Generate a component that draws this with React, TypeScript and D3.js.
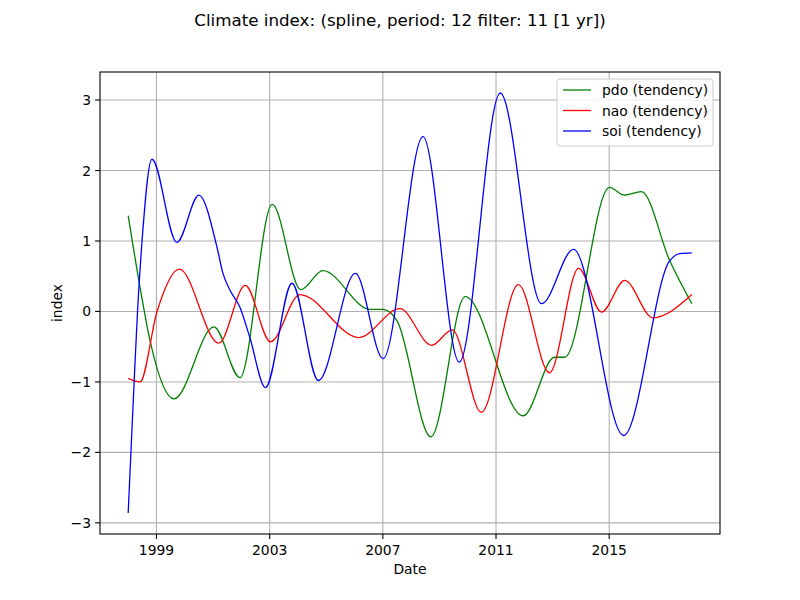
import React from "react";
import * as d3 from "d3";

// decimal years + index values
const pdoYears = [1998.0, 1998.42, 1998.77, 1999.62, 2001.03, 2001.95, 2003.09, 2004.1, 2004.88, 2006.54, 2007.0, 2007.5, 2008.7, 2009.91, 2011.96, 2013.07, 2013.43, 2015.01, 2015.53, 2016.14, 2017.14, 2017.92];
const pdoValues = [1.36, 0.34, -0.41, -1.24, -0.22, -0.94, 1.52, 0.31, 0.58, 0.03, 0.03, -0.13, -1.78, 0.21, -1.48, -0.65, -0.65, 1.76, 1.65, 1.7, 0.72, 0.11];

const naoYears = [1998.0, 1998.42, 1999.02, 1999.81, 2001.2, 2002.14, 2003.03, 2004.07, 2006.15, 2007.6, 2008.73, 2009.45, 2010.48, 2011.79, 2012.89, 2013.92, 2014.73, 2015.55, 2016.54, 2017.92];
const naoValues = [-0.95, -1.0, 0.0, 0.6, -0.45, 0.37, -0.43, 0.24, -0.37, 0.04, -0.48, -0.26, -1.43, 0.38, -0.87, 0.61, -0.01, 0.44, -0.09, 0.24];

const soiYears = [1998.0, 1998.21, 1998.33, 1998.49, 1998.84, 1999.72, 2000.5, 2001.14, 2001.35, 2001.6, 2001.95, 2002.3, 2002.85, 2003.79, 2004.72, 2006.03, 2007.01, 2008.42, 2009.7, 2011.15, 2012.61, 2013.74, 2015.51, 2017.14, 2017.49, 2017.92];
const soiValues = [-2.86, -1.0, 0.0, 1.0, 2.16, 0.98, 1.65, 0.91, 0.54, 0.3, 0.06, -0.37, -1.08, 0.4, -0.98, 0.54, -0.67, 2.48, -0.72, 3.1, 0.11, 0.88, -1.76, 0.72, 0.82, 0.83];

const xTicks = [1999, 2003, 2007, 2011, 2015];
const yTicks = [-3, -2, -1, 0, 1, 2, 3];

const series = [
  { label: "pdo (tendency)", color: "green", years: pdoYears, values: pdoValues },
  { label: "nao (tendency)", color: "red", years: naoYears, values: naoValues },
  { label: "soi (tendency)", color: "blue", years: soiYears, values: soiValues },
];

const W = 800;
const H = 600;
const margin = { left: 100, right: 80, top: 72, bottom: 66 };
const font = "DejaVu Sans, sans-serif";

function padded(lo: number, hi: number): [number, number] {
  const m = (hi - lo) * 0.05;
  return [lo - m, hi + m];
}

export default function App() {
  const allYears = series.flatMap((s) => s.years);
  const allValues = series.flatMap((s) => s.values);

  const x = d3
    .scaleLinear()
    .domain(padded(d3.min(allYears) as number, d3.max(allYears) as number))
    .range([margin.left, W - margin.right]);
  const y = d3
    .scaleLinear()
    .domain(padded(d3.min(allValues) as number, d3.max(allValues) as number))
    .range([H - margin.bottom, margin.top]);

  const line = d3
    .line<[number, number]>()
    .x((d) => x(d[0]))
    .y((d) => y(d[1]))
    .curve(d3.curveMonotoneX);

  const x0 = margin.left;
  const x1 = W - margin.right;
  const y0 = margin.top;
  const y1 = H - margin.bottom;

  // legend box, upper right
  const lgRight = x1 - 7;
  const lgTop = y0 + 7;
  const lgW = 156;
  const lgRow = 20.5;

  return (
    <svg
      width={W}
      height={H}
      style={{ position: "absolute", left: 0, top: 0, background: "white" }}
      fontFamily={font}
    >
      <rect width={W} height={H} fill="white" />
      <text x={W / 2} y={26} textAnchor="middle" fontSize={16.7} fill="black">
        Climate index: (spline, period: 12 filter: 11 [1 yr])
      </text>

      {/* grid */}
      {xTicks.map((t) => (
        <line key={"gx" + t} x1={x(t)} x2={x(t)} y1={y0} y2={y1} stroke="#b0b0b0" strokeWidth={1.1} />
      ))}
      {yTicks.map((t) => (
        <line key={"gy" + t} x1={x0} x2={x1} y1={y(t)} y2={y(t)} stroke="#b0b0b0" strokeWidth={1.1} />
      ))}

      <clipPath id="plot">
        <rect x={x0} y={y0} width={x1 - x0} height={y1 - y0} />
      </clipPath>
      <g clipPath="url(#plot)">
        {series.map((s) => (
          <path
            key={s.label}
            d={line(s.years.map((yr, i) => [yr, s.values[i]] as [number, number])) || ""}
            fill="none"
            stroke={s.color}
            strokeWidth={1.3}
          />
        ))}
      </g>

      {/* spines */}
      <rect x={x0} y={y0} width={x1 - x0} height={y1 - y0} fill="none" stroke="black" strokeWidth={1.1} />

      {/* x ticks */}
      {xTicks.map((t) => (
        <g key={"tx" + t}>
          <line x1={x(t)} x2={x(t)} y1={y1} y2={y1 + 4.9} stroke="black" strokeWidth={1.1} />
          <text x={x(t)} y={y1 + 21} textAnchor="middle" fontSize={13.9} fill="black">
            {t}
          </text>
        </g>
      ))}
      {/* y ticks */}
      {yTicks.map((t) => (
        <g key={"ty" + t}>
          <line x1={x0 - 4.9} x2={x0} y1={y(t)} y2={y(t)} stroke="black" strokeWidth={1.1} />
          <text x={x0 - 9} y={y(t) + 5} textAnchor="end" fontSize={13.9} fill="black">
            {t < 0 ? "\u2212" + Math.abs(t) : String(t)}
          </text>
        </g>
      ))}

      <text x={(x0 + x1) / 2} y={574} textAnchor="middle" fontSize={13.9} fill="black">
        Date
      </text>
      <text
        transform={`translate(62,${(y0 + y1) / 2}) rotate(-90)`}
        textAnchor="middle"
        fontSize={13.9}
        fill="black"
      >
        index
      </text>

      {/* legend */}
      <rect
        x={lgRight - lgW}
        y={lgTop}
        width={lgW}
        height={67}
        rx={3}
        fill="white"
        fillOpacity={0.8}
        stroke="#cccccc"
        strokeWidth={1}
      />
      {series.map((s, i) => {
        const cy = lgTop + 11 + i * lgRow;
        return (
          <g key={"lg" + s.label}>
            <line x1={lgRight - lgW + 6} x2={lgRight - lgW + 34} y1={cy} y2={cy} stroke={s.color} strokeWidth={1.3} />
            <text x={lgRight - lgW + 45} y={cy + 5} fontSize={13.9} fill="black">
              {s.label}
            </text>
          </g>
        );
      })}
    </svg>
  );
}
